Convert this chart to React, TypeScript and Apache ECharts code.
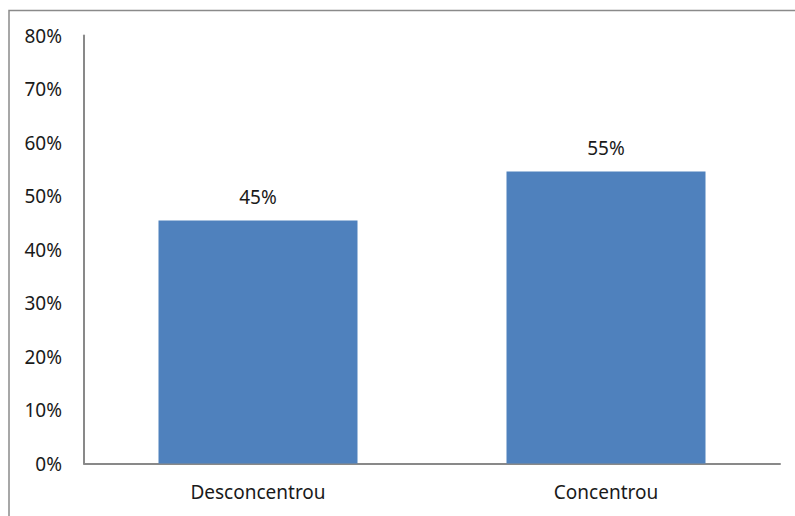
import React, { useEffect, useRef } from "react";
import * as echarts from "echarts";

const categories = ["Desconcentrou", "Concentrou"];
const values = [45.4, 54.6];
const yTicks = [0, 10, 20, 30, 40, 50, 60, 70, 80];

export default function App() {
  const ref = useRef<HTMLDivElement>(null);
  useEffect(() => {
    document.body.style.margin = "0";
    const chart = echarts.init(ref.current!, null, { renderer: "svg" });
    const font = "'Noto Sans', 'Open Sans', sans-serif";
    chart.setOption({
      animation: false,
      backgroundColor: "#ffffff",
      grid: { left: 84, right: 15, top: 35.5, bottom: 52.5, containLabel: false },
      xAxis: {
        type: "category",
        data: categories,
        axisLine: { show: true, lineStyle: { color: "#898989", width: 2 } },
        axisTick: { show: false },
        axisLabel: { color: "#1a1a1a", fontSize: 19, fontFamily: font, margin: 19 },
      },
      yAxis: {
        type: "value",
        min: yTicks[0],
        max: yTicks[yTicks.length - 1],
        interval: 10,
        axisLine: { show: true, lineStyle: { color: "#898989", width: 2 } },
        axisTick: { show: false },
        splitLine: { show: false },
        axisLabel: {
          color: "#1a1a1a",
          fontSize: 19,
          fontFamily: font,
          margin: 22,
          formatter: (v: number) => `${v}%`,
        },
      },
      series: [
        {
          type: "bar",
          data: values,
          barWidth: 199,
          itemStyle: { color: "#4F81BD" },
          label: {
            show: true,
            position: "top",
            distance: 14,
            color: "#1a1a1a",
            fontSize: 19,
            fontFamily: font,
            formatter: (p: any) => `${Math.round(p.value)}%`,
          },
        },
      ],
      graphic: [
        {
          type: "rect",
          shape: { x: 9, y: 10.5, width: 820, height: 540 },
          style: { fill: "none", stroke: "#8a8a8a", lineWidth: 1.5 },
          silent: true,
        },
      ],
    });
    return () => chart.dispose();
  }, []);
  return <div ref={ref} style={{ width: 795, height: 516 }} />;
}
